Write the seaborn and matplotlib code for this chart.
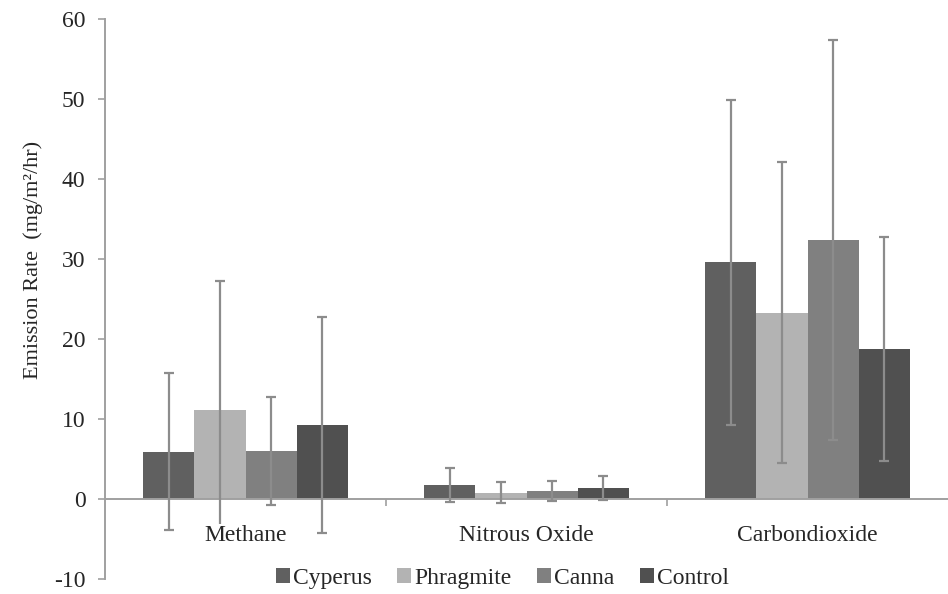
import numpy as np
import pandas as pd
import matplotlib
matplotlib.use('Agg')
import matplotlib.pyplot as plt
from matplotlib.ticker import FixedLocator
import seaborn as sns

# data
gases  = ['Methane', 'Nitrous Oxide', 'Carbondioxide']
plants = ['Cyperus', 'Phragmite', 'Canna', 'Control']

# mean emission rate (mg/m2/hr), one list per plant, in gas order
cyperus_mean   = [5.9, 1.75, 29.6]
phragmite_mean = [11.1, 0.8, 23.3]
canna_mean     = [6.0, 1.0, 32.4]
control_mean   = [9.25, 1.4, 18.8]

# error (+/-)
cyperus_err   = [9.8, 2.1, 20.3]
phragmite_err = [16.2, 1.3, 18.8]
canna_err     = [6.7, 1.25, 25.0]
control_err   = [13.5, 1.5, 14.0]

yticks = [-10, 0, 10, 20, 30, 40, 50, 60]

means = [cyperus_mean, phragmite_mean, canna_mean, control_mean]
errs  = [cyperus_err, phragmite_err, canna_err, control_err]

rows = []
for p, m, e in zip(plants, means, errs):
	for g, v, s in zip(gases, m, e):
		rows.append({'gas': g, 'plant': p, 'rate': v, 'err': s})
df = pd.DataFrame(rows)

sns.set_style('white')
plt.rcParams['font.family'] = ['Liberation Serif', 'DejaVu Serif']
plt.rcParams['axes.unicode_minus'] = False

colors = ['#606060', '#b3b3b3', '#808080', '#505050']
_fs = 17
_grey = '#a0a0a0'

fig = plt.figure(figsize=(9.48, 5.94), dpi=100)
ax = fig.add_axes([105/948, 1-579/594, 1-105/948, (579-19)/594])

sns.barplot(data=df, x='gas', y='rate', hue='plant', order=gases, hue_order=plants,
			palette=colors, width=0.726, errorbar=None, linewidth=0, saturation=1, ax=ax)

# error bars at the bar centres
for cont, e in zip(ax.containers, errs):
	xs = [b.get_x() + b.get_width()/2 for b in cont]
	ys = [b.get_height() for b in cont]
	ax.errorbar(xs, ys, yerr=e, fmt='none', ecolor='#8c8c8c', elinewidth=1.6,
				capsize=3.6, capthick=1.6, zorder=3)

ax.set_xlim(-0.5, 2.5)
ax.set_ylim(-10, 60)
ax.set_yticks(yticks)

# axes styling, excel like
sns.despine(ax=ax, top=True, right=True)
ax.spines['bottom'].set_position(('data', 0))
for s in ['left', 'bottom']:
	ax.spines[s].set_color(_grey)
	ax.spines[s].set_linewidth(1.4)

ax.tick_params(axis='y', which='major', direction='out', length=5, width=1.2,
			   color=_grey, labelsize=_fs, pad=9, left=True)
ax.tick_params(axis='x', which='major', length=0, labelsize=_fs, pad=19)
ax.xaxis.set_minor_locator(FixedLocator([0.5, 1.5]))
ax.tick_params(axis='x', which='minor', direction='out', length=5, width=1.2,
			   color=_grey, bottom=True)
ax.xaxis.set_zorder(5)
for t in ax.get_xticklabels():
	t.set_bbox(dict(facecolor='white', edgecolor='none', pad=1))

ax.set_xlabel('')
ax.set_ylabel('Emission Rate  (mg/m²/hr)', fontsize=16)
ax.yaxis.set_label_coords(-0.074, 0.57)

handles, labels = ax.get_legend_handles_labels()
ax.get_legend().remove()
fig.legend(handles, labels, loc='center', bbox_to_anchor=(0.53, 0.026), ncol=4,
		   frameon=False, fontsize=_fs, handlelength=0.6, handleheight=0.6,
		   handletextpad=0.15, columnspacing=1.05)

fig.savefig('out.png', dpi=100)
